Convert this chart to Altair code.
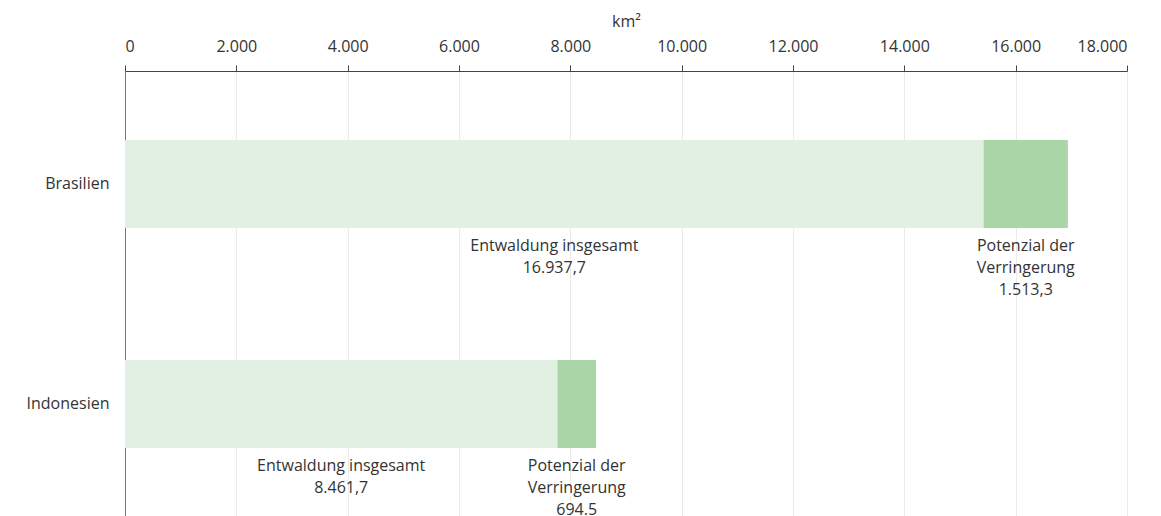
import altair as alt
import pandas as pd

countries = ["Brasilien", "Indonesien"]
total = [16937.7, 8461.7]
potential = [1513.3, 694.5]
total_labels = ["16.937,7", "8.461,7"]
potential_labels = ["1.513,3", "694.5"]
x_ticks = [0, 2000, 4000, 6000, 8000, 10000, 12000, 14000, 16000, 18000]

LIGHT = "#e1f0e2"
DARK = "#a9d5a7"
FONT = "Open Sans"
TXT = "#333333"
FS = 16

rows = []
for c, t, p in zip(countries, total, potential):
    rows.append({"country": c, "start": 0.0, "end": t - p, "kind": "rest"})
    rows.append({"country": c, "start": t - p, "end": t, "kind": "pot"})
bars_df = pd.DataFrame(rows)

lab_rows = []
for c, t, p, tl, pl in zip(countries, total, potential, total_labels, potential_labels):
    lab_rows.append({"country": c, "xpos": (t - p) / 2, "label": "Entwaldung insgesamt\n" + tl})
    lab_rows.append({"country": c, "xpos": t - p / 2, "label": "Potenzial der\nVerringerung\n" + pl})
lab_df = pd.DataFrame(lab_rows)

xscale = alt.Scale(domain=[0, 18000], nice=False)
yscale = alt.Scale(domain=countries, paddingInner=0.6, paddingOuter=0.314)

xaxis = alt.Axis(
    orient="top", values=x_ticks, title="km²", grid=True, gridColor="#ebebeb",
    labelExpr="replace(format(datum.value, ','), ',', '.')",
    tickSize=6, tickColor="#444444", domainColor="#444444",
    labelPadding=11, titlePadding=9, labelFontSize=FS, titleFontSize=FS,
    labelFont=FONT, titleFont=FONT, labelColor=TXT, titleColor=TXT,
    titleFontWeight="normal",
)
yaxis = alt.Axis(
    title=None, ticks=False, grid=False, domainColor="#777777",
    labelPadding=16, labelFontSize=FS, labelFont=FONT, labelColor=TXT,
    minExtent=112,
)

bars = alt.Chart(bars_df).mark_bar().encode(
    x=alt.X("start:Q", scale=xscale, axis=xaxis),
    x2="end:Q",
    y=alt.Y("country:N", scale=yscale, axis=yaxis, sort=countries),
    color=alt.Color("kind:N", scale=alt.Scale(domain=["rest", "pot"], range=[LIGHT, DARK]), legend=None),
)

labels = alt.Chart(lab_df).mark_text(
    lineBreak="\n", baseline="top", align="center", dy=54, fontSize=FS,
    font=FONT, color=TXT, lineHeight=22,
).encode(
    x=alt.X("xpos:Q", scale=xscale),
    y=alt.Y("country:N", scale=yscale, sort=countries),
    text="label:N",
)

chart = alt.layer(bars, labels).properties(width=1002, height=446).configure_view(stroke=None)

chart.save("out.html", embed_options={"renderer": "svg", "actions": False})
